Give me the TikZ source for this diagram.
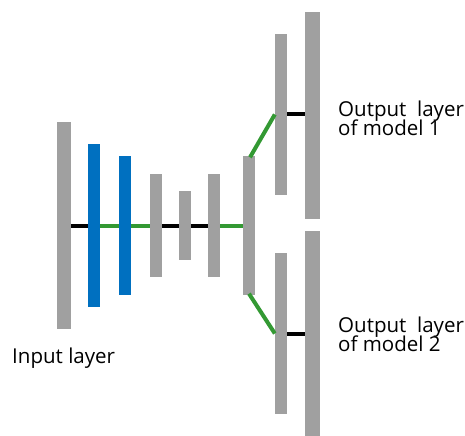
\documentclass[tikz,border=0pt]{standalone}
\usepackage{fontspec}
\setmainfont{Open Sans}
\definecolor{bargray}{RGB}{160,160,160}
\definecolor{barblue}{RGB}{0,112,192}
\definecolor{linkgreen}{RGB}{51,153,51}
\begin{document}
\begin{tikzpicture}[x=1bp,y=-1bp,
  bar/.style={rectangle, draw=none, fill=bargray, inner sep=0pt, minimum width=12bp},
  bluebar/.style={bar, fill=barblue},
  blacklink/.style={draw=black, line width=4bp},
  greenlink/.style={draw=linkgreen, line width=4bp},
  label/.style={inner sep=0pt, anchor=base west, font=\fontsize{20.6}{20.6}\selectfont}]
\useasboundingbox (0,0) rectangle (465,436);

% encoder / shared layers
\node[bar, minimum width=14bp, minimum height=207bp] (A) at (64,225.5) {};
\node[bluebar, minimum height=162bp] (B) at (94,225.5) {};
\node[bluebar, minimum height=138bp] (C) at (125,225.5) {};
\node[bar, minimum height=103bp] (D) at (156,225.5) {};
\node[bar, minimum height=69bp] (E) at (185,225.5) {};
\node[bar, minimum height=103bp] (F) at (214,225.5) {};
\node[bar, minimum height=138bp] (G) at (249,225.5) {};

% branch heads
\node[bar, minimum height=161bp] (H) at (281,114.5) {};
\node[bar, minimum width=15bp, minimum height=207bp] (I) at (312.5,115.5) {};
\node[bar, minimum height=161bp] (J) at (281,333.5) {};
\node[bar, minimum width=15bp, minimum height=207bp] (K) at (312.5,334.5) {};

% connections
\draw[blacklink] (A.east) -- (B.west);
\draw[greenlink] (B.east) -- (C.west);
\draw[greenlink] (C.east) -- (D.west);
\draw[blacklink] (D.east) -- (E.west);
\draw[blacklink] (E.east) -- (F.west);
\draw[greenlink] (F.east) -- (G.west);
\draw[greenlink] ([xshift=1bp,yshift=-1bp]G.north) -- (H.west);
\draw[greenlink] ([yshift=1bp]G.south) -- (J.west);
\draw[blacklink] (H.east) -- (H.east -| I.west);
\draw[blacklink] (J.east) -- (J.east -| K.west);

% labels
\node[label] (inlbl) at (12,363) {Input layer};
\node[label] (out1a) at (338,117) {Output\ \ layer};
\node[label] (out1b) at (338,135.5) {of model 1};
\node[label] (out2a) at (338,332.5) {Output\ \ layer};
\node[label] (out2b) at (338,351) {of model 2};
\end{tikzpicture}
\end{document}
